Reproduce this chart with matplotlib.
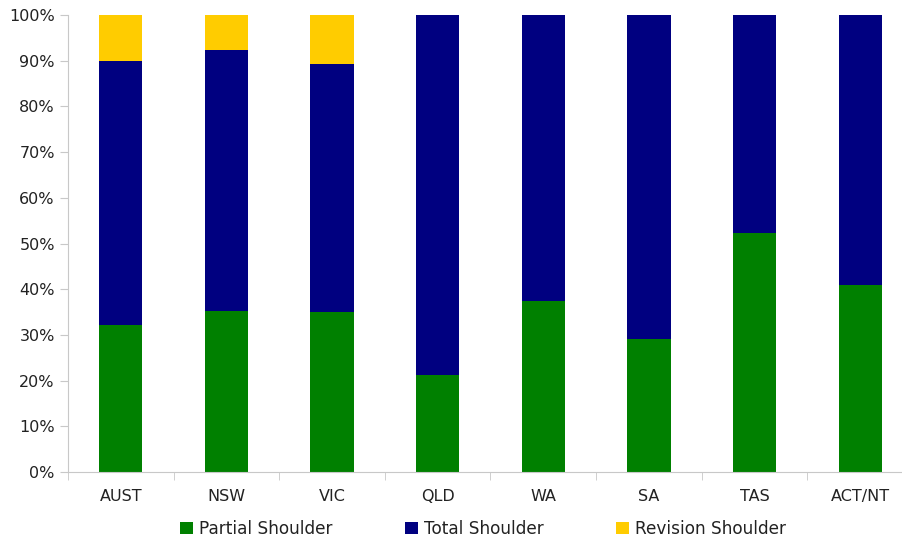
import numpy as np
import matplotlib.pyplot as plt
from matplotlib.ticker import FixedLocator, PercentFormatter

# Shoulder replacement type share by state
states = ['AUST', 'NSW', 'VIC', 'QLD', 'WA', 'SA', 'TAS', 'ACT/NT']
partial = [32.2, 35.2, 35.0, 21.3, 37.5, 29.1, 52.3, 41.0]
total = [57.7, 57.1, 54.3, 78.7, 62.5, 70.9, 47.7, 59.0]
revision = [10.1, 7.7, 10.7, 0.0, 0.0, 0.0, 0.0, 0.0]

plt.rcParams['font.family'] = ['DejaVu Sans']

fig = plt.figure(figsize=(9.03, 5.43), dpi=100)
# right edge sits a bit past the figure, like the cropped original
ax = fig.add_axes([68 / 903, (543 - 472) / 543, 845 / 903, 457 / 543])

x = np.arange(len(states))
p = np.array(partial)
t = np.array(total)
r = np.array(revision)

ax.bar(x, p, width=0.41, color='#008000', label='Partial Shoulder')
ax.bar(x, t, width=0.41, bottom=p, color='#000080', label='Total Shoulder')
ax.bar(x, r, width=0.41, bottom=p + t, color='#FFCC00', label='Revision Shoulder')

ax.set_xlim(-0.5, len(states) - 0.5)
ax.set_ylim(0, 100)
ax.set_yticks(np.arange(0, 101, 10))
ax.yaxis.set_major_formatter(PercentFormatter(decimals=0))

ax.set_xticks(x)
ax.set_xticklabels(states)
ax.tick_params(axis='x', length=0, pad=12, labelsize=11.5, colors='#222222')
ax.xaxis.set_minor_locator(FixedLocator(np.arange(-0.5, len(states), 1)))
ax.tick_params(axis='x', which='minor', length=6, color='#c8c8c8')
ax.tick_params(axis='y', length=6, color='#c8c8c8', labelsize=11.5, colors='#222222')
ax.tick_params(axis='y', colors='#c8c8c8', labelcolor='#222222')

for s in ['top', 'right']:
    ax.spines[s].set_visible(False)
for s in ['left', 'bottom']:
    ax.spines[s].set_color('#c8c8c8')

leg = fig.legend(loc='center', bbox_to_anchor=(483 / 903, 1 - 529 / 543), ncol=3,
                 frameon=False, fontsize=12.2, handlelength=0.75, handleheight=0.75,
                 handletextpad=0.35, columnspacing=4.3)
for txt in leg.get_texts():
    txt.set_color('#222222')

fig.savefig('out.png', dpi=100)
